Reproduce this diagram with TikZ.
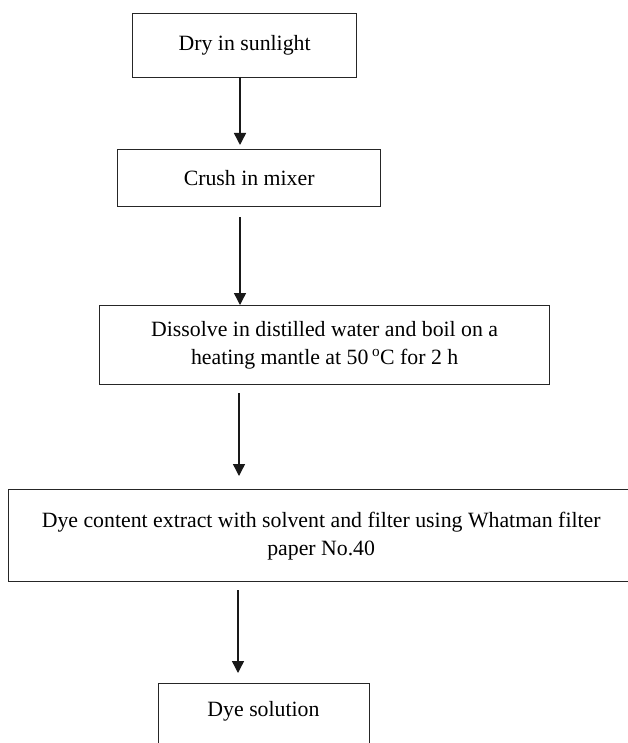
\documentclass[tikz,border=0pt]{standalone}
\usepackage{fontspec}
\setmainfont{Liberation Serif}
\usetikzlibrary{arrows.meta}
\tikzset{
  stepbox/.style={draw=black!85, line width=1.3pt, inner sep=0pt, anchor=north west,
    font=\fontsize{21.8}{28}\selectfont, align=center},
  flowarrow/.style={draw=black!90, line width=1.4pt, -{Triangle[width=12pt,length=12pt]}}
}
\begin{document}
\begin{tikzpicture}[x=1pt,y=-1pt]
\useasboundingbox (0,0) rectangle (628,743);
\fill[white] (0,0) rectangle (628,743);
\node[stepbox, minimum width=224pt, minimum height=64pt] (b1) at (132,13) {Dry in sunlight};
\node[stepbox, minimum width=263pt, minimum height=57pt] (b2) at (117,149) {Crush in mixer};
\node[stepbox, minimum width=450pt, minimum height=79pt] (b3) at (99,305) {Dissolve in distilled water and boil on a\\heating mantle at 50\,\textsuperscript{o}C for 2 h};
\node[stepbox, minimum width=625pt, minimum height=92pt] (b4) at (8,489) {Dye content extract with solvent and filter using Whatman filter\\paper No.40};
\node[stepbox, minimum width=211pt, minimum height=80pt] (b5) at (158,683) {};
\node at (263.5,711) [font=\fontsize{21.8}{28}\selectfont] (t5) {Dye solution};
\coordinate (s1) at (240,77);   \coordinate (e1) at (240,145);
\coordinate (s2) at (240,217);  \coordinate (e2) at (240,305);
\coordinate (s3) at (239,393);  \coordinate (e3) at (239,476);
\coordinate (s4) at (238,590);  \coordinate (e4) at (238,673);
\draw[flowarrow] (s1) -- (e1);
\draw[flowarrow] (s2) -- (e2);
\draw[flowarrow] (s3) -- (e3);
\draw[flowarrow] (s4) -- (e4);
\end{tikzpicture}
\end{document}
